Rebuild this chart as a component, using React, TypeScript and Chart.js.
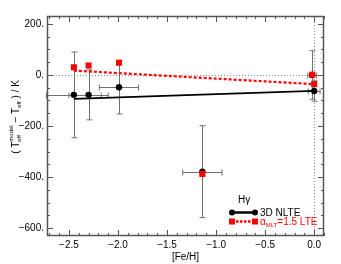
import React, { useEffect, useRef } from "react";
import { Chart, registerables } from "chart.js";

Chart.register(...registerables);

const FONT = "'Liberation Sans', Arial, Helvetica, sans-serif";

// [Fe/H] of the stars and their uncertainties
const feh = [-2.45, -2.3, -1.99, -1.14, -0.02, 0.0];
const fehErr = [0.28, 0.2, 0.2, 0.2, 0.045, 0.06];
// Teff(model) - Teff for 3D NLTE and alpha_MLT=1.5 LTE
const dTeffNlte = [-78, -78, -48, -379, 0, -63];
const dTeffLte = [30, 37, 48, -388, 1, -36];
const dTeffErr = [168, 98, 105, 180, 95, 40];
// linear fits
const fitFeh = [-2.45, 0.0];
const fitNlte = [-94, -62];
const fitLte = [17, -36];
// axes
const xTicks = [-2.5, -2.0, -1.5, -1.0, -0.5, 0.0];
const yTicks = [-600, -400, -200, 0, 200];
const X_MIN = -2.724;
const X_MAX = 0.1;
const Y_MIN = -631;
const Y_MAX = 231;

type Seg = { t: string; s: number; dy: number; stack?: boolean };

function drawRich(
  ctx: CanvasRenderingContext2D,
  segs: Seg[],
  cx: number,
  cy: number,
  color: string,
  rotate: boolean,
  align: "center" | "left"
) {
  ctx.save();
  ctx.translate(cx, cy);
  if (rotate) ctx.rotate(-Math.PI / 2);
  const raw = segs.map((s) => {
    ctx.font = `${s.s}px ${FONT}`;
    return ctx.measureText(s.t).width;
  });
  const adv = raw.slice();
  segs.forEach((s, i) => {
    if (s.stack && i > 0) {
      adv[i] = Math.max(raw[i], raw[i - 1]);
      adv[i - 1] = 0;
    }
  });
  const total = adv.reduce((a, b) => a + b, 0);
  let x = align === "center" ? -total / 2 : 0;
  ctx.fillStyle = color;
  ctx.textBaseline = "alphabetic";
  ctx.textAlign = "left";
  segs.forEach((s, i) => {
    ctx.font = `${s.s}px ${FONT}`;
    ctx.fillText(s.t, x, s.dy);
    x += adv[i];
  });
  ctx.restore();
}

const framePlugin = {
  id: "framePlugin",
  beforeDatasetsDraw(chart: any) {
    const { ctx, chartArea: a, scales } = chart;
    const xs = scales.x;
    const ys = scales.y;
    ctx.save();
    // dotted reference lines
    ctx.strokeStyle = "#8a8a8a";
    ctx.lineWidth = 1;
    ctx.setLineDash([1, 2]);
    const y0 = Math.round(ys.getPixelForValue(0)) + 0.5;
    ctx.beginPath();
    ctx.moveTo(a.left, y0);
    ctx.lineTo(a.right, y0);
    ctx.stroke();
    const x0 = Math.round(xs.getPixelForValue(0)) + 0.5;
    ctx.beginPath();
    ctx.moveTo(x0, a.top);
    ctx.lineTo(x0, a.bottom);
    ctx.stroke();
    ctx.setLineDash([]);
    // error bars
    ctx.strokeStyle = "#707070";
    ctx.lineWidth = 1;
    const cap = 3;
    feh.forEach((fx, i) => {
      const px = Math.round(xs.getPixelForValue(fx)) + 0.5;
      const py = Math.round(ys.getPixelForValue(dTeffNlte[i])) + 0.5;
      const yt = ys.getPixelForValue(dTeffNlte[i] + dTeffErr[i]);
      const yb = ys.getPixelForValue(dTeffNlte[i] - dTeffErr[i]);
      const xl = xs.getPixelForValue(fx - fehErr[i]);
      const xr = xs.getPixelForValue(fx + fehErr[i]);
      ctx.beginPath();
      ctx.moveTo(px, yt);
      ctx.lineTo(px, yb);
      ctx.moveTo(px - cap, yt);
      ctx.lineTo(px + cap, yt);
      ctx.moveTo(px - cap, yb);
      ctx.lineTo(px + cap, yb);
      ctx.moveTo(xl, py);
      ctx.lineTo(xr, py);
      ctx.moveTo(xl, py - cap);
      ctx.lineTo(xl, py + cap);
      ctx.moveTo(xr, py - cap);
      ctx.lineTo(xr, py + cap);
      ctx.stroke();
    });
    ctx.restore();
  },
  afterDraw(chart: any) {
    const { ctx, chartArea: a, scales } = chart;
    const xs = scales.x;
    const ys = scales.y;
    ctx.save();
    // frame
    ctx.strokeStyle = "#555";
    ctx.lineWidth = 1.5;
    ctx.strokeRect(a.left + 0.5, a.top + 0.5, a.right - a.left - 1, a.bottom - a.top - 1);
    ctx.lineWidth = 1;
    // x ticks (inward, bottom and top)
    ctx.beginPath();
    for (let k = -27; k <= 1; k++) {
      const v = k / 10;
      const px = Math.round(xs.getPixelForValue(v)) + 0.5;
      const len = k % 5 === 0 ? 6 : 3;
      ctx.moveTo(px, a.bottom);
      ctx.lineTo(px, a.bottom - len);
      ctx.moveTo(px, a.top);
      ctx.lineTo(px, a.top + len);
    }
    // y ticks (inward, left and right)
    for (let v = -600; v <= 200; v += 50) {
      const py = Math.round(ys.getPixelForValue(v)) + 0.5;
      const len = v % 200 === 0 ? 6 : 3;
      ctx.moveTo(a.left, py);
      ctx.lineTo(a.left + len, py);
      ctx.moveTo(a.right, py);
      ctx.lineTo(a.right - len, py);
    }
    ctx.stroke();

    // axis titles
    ctx.fillStyle = "#000";
    ctx.font = `10px ${FONT}`;
    ctx.textAlign = "center";
    ctx.textBaseline = "middle";
    ctx.fillText("[Fe/H]", (a.left + a.right) / 2, 257);

    drawRich(
      ctx,
      [
        { t: "( T", s: 10, dy: 0 },
        { t: "model", s: 6, dy: -6 },
        { t: "eff", s: 6, dy: 2, stack: true },
        { t: " \u2212 T", s: 10, dy: 0 },
        { t: "eff", s: 6, dy: 2 },
        { t: " ) / K", s: 10, dy: 0 },
      ],
      19,
      117,
      "#000",
      true,
      "center"
    );

    // legend
    ctx.fillStyle = "#000";
    ctx.font = `10px ${FONT}`;
    ctx.textAlign = "left";
    ctx.textBaseline = "alphabetic";
    ctx.fillText("H\u03b3", 238, 203);

    const lx1 = 232;
    const lx2 = 255;
    const ly1 = 212.5;
    ctx.strokeStyle = "#000";
    ctx.lineWidth = 2.5;
    ctx.beginPath();
    ctx.moveTo(lx1, ly1);
    ctx.lineTo(lx2, ly1);
    ctx.stroke();
    ctx.fillStyle = "#000";
    [lx1, lx2].forEach((x) => {
      ctx.beginPath();
      ctx.arc(x, ly1, 3, 0, Math.PI * 2);
      ctx.fill();
    });
    ctx.font = `10px ${FONT}`;
    ctx.fillText("3D NLTE", 260, 216);

    const ly2 = 221.5;
    ctx.strokeStyle = "#ff0000";
    ctx.lineWidth = 2.5;
    ctx.setLineDash([2.5, 1.5]);
    ctx.beginPath();
    ctx.moveTo(lx1, ly2);
    ctx.lineTo(lx2, ly2);
    ctx.stroke();
    ctx.setLineDash([]);
    ctx.fillStyle = "#ff0000";
    [lx1, lx2].forEach((x) => {
      ctx.fillRect(x - 3, ly2 - 3, 6, 6);
    });
    drawRich(
      ctx,
      [
        { t: "\u03b1", s: 10, dy: 0 },
        { t: "MLT", s: 6, dy: 2 },
        { t: "=1.5 LTE", s: 10, dy: 0 },
      ],
      260,
      225,
      "#ff0000",
      false,
      "left"
    );
    ctx.restore();
  },
};

export default function App() {
  const ref = useRef<HTMLCanvasElement>(null);
  useEffect(() => {
    document.body.style.margin = "0";
    const canvas = ref.current;
    if (!canvas) return;
    const chart = new Chart(canvas, {
      type: "scatter",
      data: {
        datasets: [
          {
            label: "LTE",
            data: feh.map((x, i) => ({ x, y: dTeffLte[i] })),
            pointStyle: "rect",
            pointRadius: 4.3,
            backgroundColor: "#ff0000",
            borderColor: "#ff0000",
            borderWidth: 0,
            showLine: false,
          },
          {
            label: "NLTE",
            data: feh.map((x, i) => ({ x, y: dTeffNlte[i] })),
            pointStyle: "circle",
            pointRadius: 3.2,
            backgroundColor: "#000",
            borderColor: "#000",
            borderWidth: 0,
            showLine: false,
          },
          {
            label: "fit LTE",
            data: fitFeh.map((x, i) => ({ x, y: fitLte[i] })),
            showLine: true,
            pointRadius: 0,
            borderColor: "#ff0000",
            borderWidth: 2.2,
            borderDash: [3, 2],
            fill: false,
          },
          {
            label: "fit NLTE",
            data: fitFeh.map((x, i) => ({ x, y: fitNlte[i] })),
            showLine: true,
            pointRadius: 0,
            borderColor: "#000",
            borderWidth: 1.8,
            fill: false,
          },
        ],
      },
      options: {
        responsive: false,
        animation: false,
        devicePixelRatio: 1,
        layout: { padding: { top: 16, right: 17, left: 0, bottom: 0 } },
        plugins: {
          legend: { display: false },
          tooltip: { enabled: false },
          title: { display: false },
        },
        scales: {
          x: {
            type: "linear",
            min: X_MIN,
            max: X_MAX,
            grid: { display: false, drawTicks: false },
            border: { display: false },
            ticks: {
              color: "#000",
              font: { family: FONT, size: 10 },
              padding: 3,
              maxRotation: 0,
              autoSkip: false,
              callback: (v: any) => {
                const n = Number(v);
                const s = Math.abs(n).toFixed(1);
                return n < -1e-9 ? "\u2212" + s : s;
              },
            },
            afterBuildTicks: (s: any) => {
              s.ticks = xTicks.map((v) => ({ value: v }));
            },
            afterFit: (s: any) => {
              s.height = 28;
            },
          },
          y: {
            type: "linear",
            min: Y_MIN,
            max: Y_MAX,
            grid: { display: false, drawTicks: false },
            border: { display: false },
            ticks: {
              color: "#000",
              font: { family: FONT, size: 10 },
              padding: 3,
              autoSkip: false,
              callback: (v: any) => {
                const n = Number(v);
                return (n < 0 ? "\u2212" + Math.abs(n) : String(n)) + ".";
              },
            },
            afterBuildTicks: (s: any) => {
              s.ticks = yTicks.map((v) => ({ value: v }));
            },
            afterFit: (s: any) => {
              s.width = 47;
            },
          },
        },
      },
      plugins: [framePlugin],
    });
    return () => chart.destroy();
  }, []);
  return (
    <canvas
      ref={ref}
      width={341}
      height={264}
      style={{ display: "block", width: 341, height: 264 }}
    />
  );
}
